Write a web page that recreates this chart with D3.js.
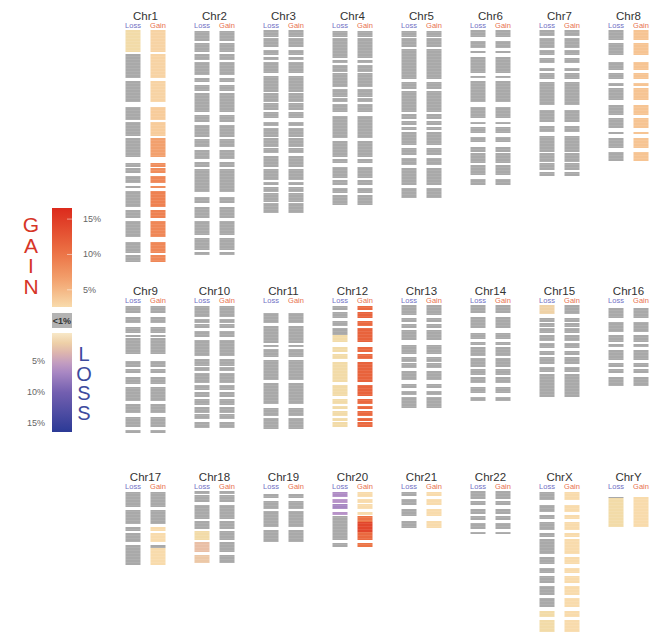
<!DOCTYPE html>
<html>
<head>
<meta charset="utf-8">
<script src="https://cdn.jsdelivr.net/npm/d3@7"></script>
<style>
  body { margin: 0; background: #fff; }
  text { font-family: "Liberation Sans", Arial, sans-serif; }
</style>
</head>
<body>
<script>
let w = 657;
let h = 633;

// each bin: [start, end, loss %, gain %]  (positions in bins from the top of the row)
let chr1 = [[0,22,1.5,3],[24,48,0,3],[51,72,0,3],[77,90,0,3.5],[92,106,0,3.5],[108,127,0,6.5],[133,137,0,8],[138,143,0,8],[146,153,0,8.5],[156,158,0,8],[161,177,0,9],[180,188,0,9],[191,207,0,8.5],[212,223,0,8.5],[225,232,0,8.5]];
let chr2 = [[1,11,0,0],[13,22,0,0],[24,30,0,0],[32,45,0,0],[48,52,0,0],[55,61,0,0],[63,82,0,0],[85,92,0,0],[95,107,0,0],[109,117,0,0],[120,129,0,0],[132,137,0,0],[139,162,0,0],[167,173,0,0],[177,188,0,0],[191,205,0,0],[208,220,0,0],[222,225,0,0]];
let chr3 = [[0,7,0,0],[8,17,0,0],[20,25,0,0],[27,30,0,0],[32,43,0,0],[46,62,0,0],[63,72,0,0],[73,80,0,0],[82,88,0,0],[92,96,0,0],[98,107,0,0],[108,117,0,0],[118,123,0,0],[126,137,0,0],[139,150,0,0],[152,155,0,0],[157,162,0,0],[163,172,0,0],[173,183,0,0]];
let chr4 = [[1,7,0,0],[8,28,0,0],[30,33,0,0],[35,42,0,0],[43,57,0,0],[59,67,0,0],[68,72,0,0],[74,82,0,0],[86,108,0,0],[111,127,0,0],[129,133,0,0],[137,148,0,0],[150,155,0,0],[158,163,0,0],[165,175,0,0]];
let chr5 = [[1,7,0,0],[8,17,0,0],[19,49,0,0],[52,59,0,0],[61,82,0,0],[84,89,0,0],[91,95,0,0],[97,100,0,0],[102,115,0,0],[118,125,0,0],[128,135,0,0],[138,155,0,0],[158,168,0,0]];
let chr6 = [[0,7,0,0],[11,18,0,0],[21,23,0,0],[27,43,0,0],[46,48,0,0],[51,72,0,0],[77,88,0,0],[92,94,0,0],[97,103,0,0],[107,112,0,0],[117,122,0,0],[123,133,0,0],[135,145,0,0],[149,155,0,0]];
let chr7 = [[0,6,0,0],[8,18,0,0],[20,25,0,0],[28,33,0,0],[38,41,0,0],[43,49,0,0],[52,75,0,0],[80,92,0,0],[96,102,0,0],[106,122,0,0],[123,132,0,0],[133,140,0,0],[142,146,0,0]];
let chr8 = [[0,10,0,4],[13,25,0,4],[32,40,0,4],[43,49,0,4],[53,56,0,4],[58,70,0,4],[75,85,0,4],[88,98,0,4],[102,104,0,4],[108,118,0,4],[122,131,0,4]];
let chr9 = [[1,8,0,0],[12,18,0,0],[22,28,0,0],[30,32,0,0],[33,49,0,0],[56,62,0,0],[64,68,0,0],[72,79,0,0],[82,96,0,0],[99,108,0,0],[112,122,0,0],[125,128,0,0]];
let chr10 = [[1,12,0,0],[14,18,0,0],[19,23,0,0],[26,32,0,0],[35,51,0,0],[54,61,0,0],[62,66,0,0],[68,78,0,0],[80,85,0,0],[87,92,0,0],[94,100,0,0],[102,108,0,0],[109,114,0,0],[117,123,0,0]];
let chr11 = [[8,18,0,0],[21,38,0,0],[40,42,0,0],[44,52,0,0],[55,75,0,0],[78,99,0,0],[103,111,0,0],[113,124,0,0]];
let chr12 = [[1,5,0,11],[7,13,0,11.5],[16,21,0,11],[23,30,0,11.5],[30,37,1.5,11.5],[42,47,1.5,11],[49,54,1.5,11],[57,77,1.5,11.5],[80,91,1.5,11.5],[94,99,1.5,11],[101,104,1.5,11],[106,111,1.5,11],[113,116,1.5,11],[117,122,1.5,11]];
let chr13 = [[0,10,0,0],[13,17,0,0],[19,23,0,0],[25,35,0,0],[40,49,0,0],[52,57,0,0],[58,63,0,0],[66,75,0,0],[79,83,0,0],[86,90,0,0],[92,103,0,0]];
let chr14 = [[0,8,0,0],[12,23,0,0],[28,34,0,0],[37,40,0,0],[42,51,0,0],[53,62,0,0],[64,70,0,0],[72,78,0,0],[82,88,0,0],[92,96,0,0]];
let chr15 = [[0,9,2,0],[13,17,0,0],[18,22,0,0],[23,28,0,0],[30,36,0,0],[38,43,0,0],[46,50,0,0],[52,59,0,0],[62,67,0,0],[69,92,0,0]];
let chr16 = [[3,13,0,0],[17,27,0,0],[30,37,0,0],[39,42,0,0],[45,55,0,0],[58,62,0,0],[64,68,0,0],[72,81,0,0]];
let chr17 = [[1,16,0,0],[19,33,0,0],[36,40,0,2.5],[42,51,0,2.5],[54,57,0,0],[57,74,0,2.5]];
let chr18 = [[0,3,0,0],[4,11,0,0],[14,28,0,0],[30,38,0,0],[40,49,1.5,0],[51,61,3,0],[64,72,2.5,0]];
let chr19 = [[3,7,0,0],[10,18,0,0],[20,36,0,0],[39,51,0,0]];
let chr20 = [[1,6,6.5,2.5],[8,12,6,2.5],[13,18,7,2.5],[21,24,6,2.5],[25,31,0,10],[31,41,0,14],[41,49,0,11],[52,56,0,10]];
let chr21 = [[1,5,0,2.5],[8,14,0,2.5],[18,25,0,2.5],[30,37,0,2.5]];
let chr22 = [[0,8,0,0],[10,14,0,0],[18,23,0,0],[25,29,0,0],[32,38,0,0],[41,43,0,0]];
let chrX = [[1,9,0,2.5],[14,21,0,2.5],[24,28,0,2.5],[31,39,0,2.5],[42,46,0,2.5],[48,63,0,2.5],[66,73,0,2.5],[77,82,0,2.5],[85,92,0,2.5],[95,104,0,2.5],[107,116,0,2.5],[120,126,1.5,2.5],[129,141,1.5,2.5]];
let chrY = [[6,7,0,2.5],[7,36,1.5,2.5]];

let names = ["Chr1","Chr2","Chr3","Chr4","Chr5","Chr6","Chr7","Chr8",
             "Chr9","Chr10","Chr11","Chr12","Chr13","Chr14","Chr15","Chr16",
             "Chr17","Chr18","Chr19","Chr20","Chr21","Chr22","ChrX","ChrY"];
let bins = [chr1,chr2,chr3,chr4,chr5,chr6,chr7,chr8,chr9,chr10,chr11,chr12,
            chr13,chr14,chr15,chr16,chr17,chr18,chr19,chr20,chr21,chr22,chrX,chrY];
let columns = ["Loss", "Gain"];
let gainTicks = [5, 10, 15];
let lossTicks = [5, 10, 15];

let rowTop = [30, 305, 491];
let perRow = 8;

let svg = d3.select("body").append("svg")
  .attr("width", w)
  .attr("height", h);

let defs = svg.append("defs");
let pat = defs.append("pattern")
  .attr("id", "stripes")
  .attr("patternUnits", "userSpaceOnUse")
  .attr("width", 20).attr("height", 3);
pat.append("rect").attr("y", 2.3).attr("width", 20).attr("height", 0.7)
  .attr("fill", "#fff").attr("opacity", 0.12);

let gray = "#a9a9a9";
let gainColor = d3.scaleLinear()
  .domain([1, 2.5, 6, 10, 16.5])
  .range(["#fce9c8", "#f8dbac", "#f3a672", "#ec7446", "#dc2a1c"])
  .clamp(true);
let lossColor = d3.scaleLinear()
  .domain([0.5, 1.5, 3, 6, 10, 16.5])
  .range(["#f8e8c8", "#f2dba8", "#e9bfa6", "#b792c8", "#7460b0", "#2b3a96"])
  .clamp(true);

let xScale = d3.scalePoint()
  .domain(d3.range(perRow))
  .range([145.5, 628.5]);
let yScale = d3.scaleLinear()
  .domain([0, 240])
  .range([0, 240]);
let colScale = d3.scaleBand()
  .domain(columns)
  .range([-20, 20])
  .paddingInner(0.4);

names.forEach((name, i) => {
  let row = Math.floor(i / perRow);
  let cx = xScale(i % perRow);
  let top = rowTop[row];
  let g = svg.append("g").attr("transform", "translate(" + cx + "," + top + ")");

  g.append("text")
    .attr("x", 0).attr("y", -10)
    .attr("text-anchor", "middle")
    .attr("font-size", 11.5)
    .attr("fill", "#333")
    .text(name);

  columns.forEach((c) => {
    g.append("text")
      .attr("x", colScale(c) + colScale.bandwidth() / 2)
      .attr("y", -2.5)
      .attr("text-anchor", "middle")
      .attr("font-size", 7.5)
      .attr("fill", c === "Loss" ? "#6f6fc4" : "#e8714f")
      .text(c);

    let col = g.append("g");
    col.selectAll("rect.bin")
      .data(bins[i])
      .enter()
      .append("rect")
      .attr("class", "bin")
      .attr("x", colScale(c))
      .attr("y", (d) => { return yScale(d[0]); })
      .attr("width", colScale.bandwidth())
      .attr("height", (d) => { return yScale(d[1]) - yScale(d[0]); })
      .attr("fill", (d) => {
        let v = c === "Loss" ? d[2] : d[3];
        if (v < 1) return gray;
        return c === "Loss" ? lossColor(v) : gainColor(v);
      });
    col.selectAll("rect.tex")
      .data(bins[i])
      .enter()
      .append("rect")
      .attr("class", "tex")
      .attr("x", colScale(c))
      .attr("y", (d) => { return yScale(d[0]); })
      .attr("width", colScale.bandwidth())
      .attr("height", (d) => { return yScale(d[1]) - yScale(d[0]); })
      .attr("fill", "url(#stripes)");
  });
});

// legend
let barX = 52, barW = 20;
let gainY = d3.scaleLinear().domain([2.5, 16.5]).range([307, 208]);
let lossY = d3.scaleLinear().domain([0.5, 16.5]).range([333, 432]);

let gGrad = defs.append("linearGradient").attr("id", "gainGrad")
  .attr("x1", 0).attr("y1", 1).attr("x2", 0).attr("y2", 0);
d3.range(0, 1.001, 0.1).forEach((t) => {
  gGrad.append("stop").attr("offset", t)
    .attr("stop-color", gainColor(gainY.domain()[0] + t * (gainY.domain()[1] - gainY.domain()[0])));
});
let lGrad = defs.append("linearGradient").attr("id", "lossGrad")
  .attr("x1", 0).attr("y1", 0).attr("x2", 0).attr("y2", 1);
d3.range(0, 1.001, 0.1).forEach((t) => {
  lGrad.append("stop").attr("offset", t)
    .attr("stop-color", lossColor(lossY.domain()[0] + t * (lossY.domain()[1] - lossY.domain()[0])));
});

svg.append("rect")
  .attr("x", barX).attr("y", gainY.range()[1])
  .attr("width", barW).attr("height", gainY.range()[0] - gainY.range()[1])
  .attr("fill", "url(#gainGrad)");
svg.append("rect")
  .attr("x", barX).attr("y", lossY.range()[0])
  .attr("width", barW).attr("height", lossY.range()[1] - lossY.range()[0])
  .attr("fill", "url(#lossGrad)");

svg.append("rect")
  .attr("x", barX).attr("y", 313)
  .attr("width", barW).attr("height", 15)
  .attr("fill", "#b3b3b3");
svg.append("text")
  .attr("x", barX + barW / 2).attr("y", 324)
  .attr("text-anchor", "middle")
  .attr("font-size", 9).attr("font-weight", "bold")
  .attr("fill", "#333")
  .text("<1%");

let gainAxis = d3.axisRight(gainY)
  .tickValues(gainTicks)
  .tickFormat((d) => d + "%")
  .tickSizeInner(-5).tickSizeOuter(0).tickPadding(11);
let ga = svg.append("g")
  .attr("transform", "translate(" + (barX + barW) + ",0)")
  .call(gainAxis);
ga.select(".domain").remove();
ga.selectAll("line").attr("stroke", "#fff").attr("opacity", 0.5);
ga.selectAll("text").attr("font-size", 9).attr("fill", "#666");

let lossAxis = d3.axisLeft(lossY)
  .tickValues(lossTicks)
  .tickFormat((d) => d + "%")
  .tickSizeInner(0).tickSizeOuter(0).tickPadding(7);
let la = svg.append("g")
  .attr("transform", "translate(" + barX + ",0)")
  .call(lossAxis);
la.select(".domain").remove();
la.selectAll("text").attr("font-size", 9).attr("fill", "#666");

// vertical words, one text each, upright letters
svg.append("text")
  .attr("x", 31).attr("y", 213)
  .style("writing-mode", "vertical-rl")
  .style("text-orientation", "upright")
  .attr("font-size", 21)
  .attr("letter-spacing", -2.5)
  .attr("fill", "#d63527")
  .text("GAIN");
svg.append("text")
  .attr("x", 84).attr("y", 343)
  .style("writing-mode", "vertical-rl")
  .style("text-orientation", "upright")
  .attr("font-size", 20)
  .attr("letter-spacing", -2.5)
  .attr("fill", "#3d4b9e")
  .text("LOSS");
</script>
</body>
</html>
